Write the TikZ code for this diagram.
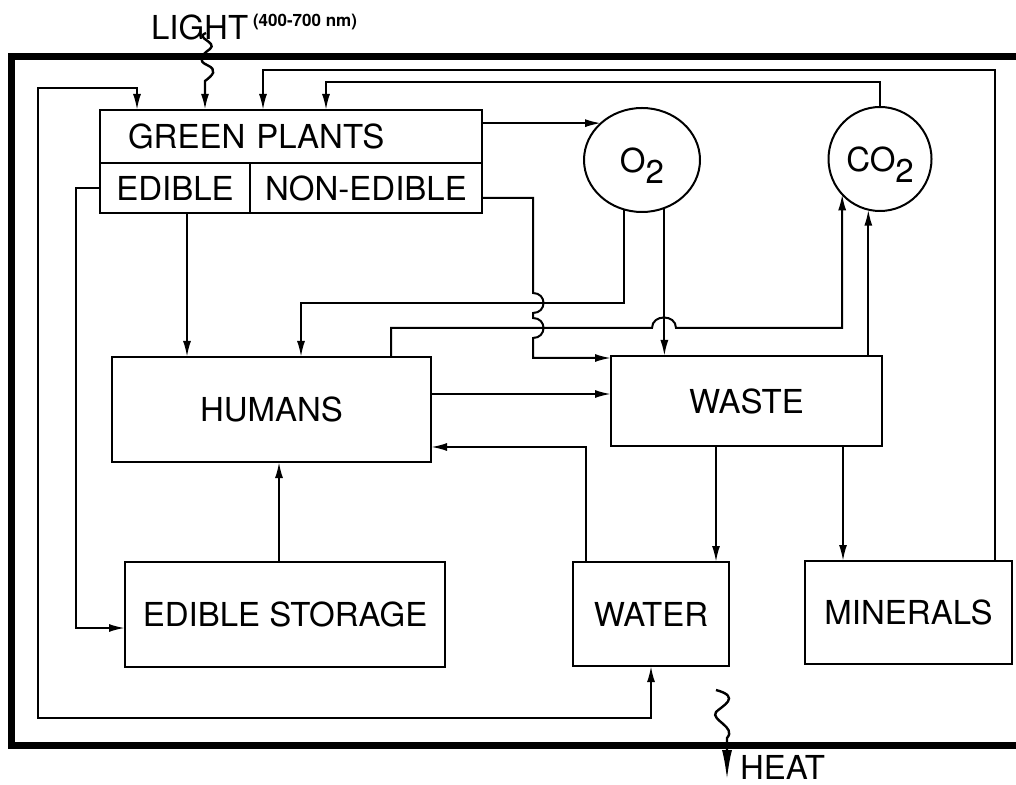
\documentclass[tikz,border=0pt]{standalone}
\usepackage{fontspec}
\setmainfont{TeX Gyre Heros}
\usepackage{tikz}
\usetikzlibrary{arrows.meta, shapes.geometric}

\begin{document}
\begin{tikzpicture}[x=0.5pt, y=-0.5pt, >={Latex[length=8pt, width=4pt]},
  line width=1pt, font=\fontsize{16.5}{19}\selectfont,
  box/.style={draw, rectangle, inner sep=0pt, outer sep=0pt},
  gas/.style={draw, ellipse, inner sep=0pt, outer sep=0pt},
  wiggle/.style={line width=1.2pt}]
  \useasboundingbox (0,0) rectangle (1016,785);

  % Closed system wall
  \draw[line width=3.5pt] (1016,57) -| (11,745) -- (1016,745);

  % Labels outside
  \node[anchor=west, inner sep=0pt] (light) at (150,27) {LIGHT};
  \node[anchor=west, inner sep=0pt, font=\bfseries\fontsize{8.5}{10}\selectfont] (band) at (252,22) {(400-700 nm)};
  \node[anchor=west, inner sep=0pt] (heat) at (739,767) {HEAT};

  % Green plants
  \node[box, minimum width=191pt, minimum height=26.5pt, text width=163pt,
        inner xsep=14pt, align=left] (plants) at (291,136.5) {GREEN PLANTS};
  \node[box, minimum width=75pt, minimum height=25pt] (edible) at (175,188) {EDIBLE};
  \node[box, minimum width=116pt, minimum height=25pt] (nonedible) at (366,188) {NON-EDIBLE};

  % Gases
  \node[gas, minimum width=58pt, minimum height=52pt] (o2) at (642,160) {O\raisebox{-5.5pt}[0pt][0pt]{2}};
  \node[gas, minimum width=51.5pt, minimum height=52pt] (co2) at (880,159) {CO\raisebox{-5.5pt}[0pt][0pt]{2}};

  % Other compartments
  \node[box, minimum width=159.5pt, minimum height=52.5pt] (humans) at (271.5,409.5) {HUMANS};
  \node[box, minimum width=135.5pt, minimum height=45pt] (waste) at (746.5,401) {WASTE};
  \node[box, minimum width=160pt, minimum height=52.5pt] (storage) at (285,614.5) {EDIBLE STORAGE};
  \node[box, minimum width=78pt, minimum height=52pt] (water) at (651,614) {WATER};
  \node[box, minimum width=103.5pt, minimum height=51.5pt] (minerals) at (908.5,612.5) {MINERALS};

  % Light in
  \draw[->, wiggle] (206,33) .. controls (194,38) and (218,42) .. (210,49)
    .. controls (200,56) and (198,61) .. (207,65)
    .. controls (218,70) and (213,75) .. (205,81) -- (205,0 |- plants.north);

  % Heat out
  \draw[->, wiggle, >={Latex[length=15pt, width=5pt]}] (716,690)
    .. controls (742,697) and (722,706) .. (716,712)
    .. controls (710,720) and (737,727) .. (727,738) -- (727,0 |- heat.south);

  % Water loop round the left
  \draw[<->] (137,0 |- plants.north) |- (38,88) |- (651,718) -- (651,0 |- water.south);

  % Food
  \draw[->] (edible.west) -| (76,628) -- (storage.west |- 76,628);
  \draw[->] (187,0 |- edible.south) -- (187,0 |- humans.north);
  \draw[->] (279,0 |- storage.north) -- (279,0 |- humans.south);
  \draw[->] (586,0 |- water.north) |- (humans.east |- 0,447);
  \draw[->] (humans.east |- 0,394) -- (waste.west |- 0,394);

  % Non-edible to waste, jumping two lines
  \draw[->] (nonedible.east |- 0,198) -| (533,293)
    .. controls (547,293) and (547,313) .. (533,313) -- (533,318)
    .. controls (547,318) and (547,338) .. (533,338) |- (waste.west |- 0,358);

  % Oxygen
  \draw[->] (plants.east |- o2.138) -- (o2.138);
  \draw[->] (o2.250) |- (301,303) -- (301,0 |- humans.north);
  \draw[->] (o2.295) -- (o2.295 |- waste.north);

  % Carbon dioxide
  \draw[->] (391,0 |- humans.north) |- (652,328)
    .. controls (652,314) and (676,314) .. (676,328) -| (co2.223);
  \draw[->] (co2.257 |- waste.north) -- (co2.257);
  \draw[->] (co2.north) |- (326,82) -- (326,0 |- plants.north);

  % Minerals back to plants
  \draw[->] (995,0 |- minerals.north) |- (263,70) -- (263,0 |- plants.north);

  % Waste sorted
  \draw[->] (716,0 |- waste.south) -- (716,0 |- water.north);
  \draw[->] (843,0 |- waste.south) -- (843,0 |- minerals.north);
\end{tikzpicture}
\end{document}
